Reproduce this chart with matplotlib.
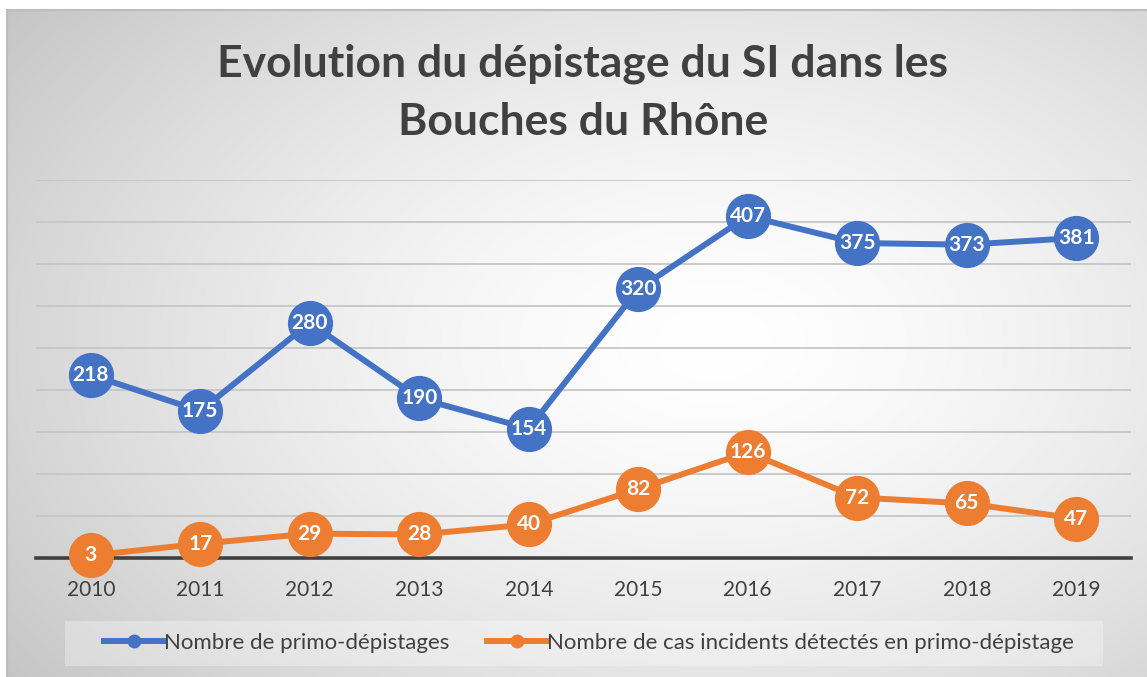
import numpy as np
import matplotlib.pyplot as plt
from matplotlib.patches import Rectangle

# data
years = ['2010', '2011', '2012', '2013', '2014', '2015', '2016', '2017', '2018', '2019']
primo = [218, 175, 280, 190, 154, 320, 407, 375, 373, 381]
incidents = [3, 17, 29, 28, 40, 82, 126, 72, 65, 47]
labels = ['Nombre de primo-dépistages', 'Nombre de cas incidents détectés en primo-dépistage']
title = 'Evolution du dépistage du SI dans les\nBouches du Rhône'

blue = '#4472C4'
orange = '#ED7D31'
txt = '#404040'

W, H = 1147, 677
fig = plt.figure(figsize=(W / 100, H / 100), dpi=100)

# chart area with radial gradient
bg = fig.add_axes([7 / W, 0, 1 - 7 / W, 1 - 10 / H])
bg.set_axis_off()
nx, ny = 400, 240
xx, yy = np.meshgrid(np.linspace(0, 1, nx), np.linspace(0, 1, ny))
r = np.sqrt(((xx - 0.62) / 1.0) ** 2 + ((yy - 0.5) / 1.1) ** 2)
r = np.clip(r / 0.8, 0, 1)
shade = 1.0 - 0.24 * r ** 1.5
bg.imshow(np.dstack([shade] * 3), aspect='auto', extent=[0, 1, 0, 1], origin='upper')
bg.set_xlim(0, 1)
bg.set_ylim(0, 1)
fig.add_artist(plt.Line2D([7.5 / W, 7.5 / W], [0, 1 - 9.5 / H], color='#bdbdbd', lw=1.5))
fig.add_artist(plt.Line2D([7 / W, 1], [1 - 9.5 / H, 1 - 9.5 / H], color='#bdbdbd', lw=1.5))

# legend background box
fig.add_artist(Rectangle((65 / W, 1 - 666 / H), (1103 - 65) / W, 45 / H,
                         transform=fig.transFigure, facecolor='white', alpha=0.3,
                         edgecolor='none'))

ax = fig.add_axes([36 / W, 1 - 558 / H, (1131 - 36) / W, (558 - 180) / H])
ax.patch.set_alpha(0)
x = np.arange(len(years))
ax.set_xlim(-0.5, len(years) - 0.5)
ax.set_ylim(0, 450)
ax.set_yticks(np.arange(50, 451, 50))
ax.yaxis.grid(True, color='#c6c6c6', lw=1.3)
ax.set_axisbelow(True)
for s in ['top', 'right', 'left']:
    ax.spines[s].set_visible(False)
ax.spines['bottom'].set_color(txt)
ax.spines['bottom'].set_linewidth(2.6)
ax.tick_params(axis='y', left=False, labelleft=False)
ax.tick_params(axis='x', length=0, pad=15.5, labelsize=15, labelcolor=txt)
ax.set_xticks(x)
ax.set_xticklabels(years, family='Lato')

for vals, col, lab in [(primo, blue, labels[0]), (incidents, orange, labels[1])]:
    ax.plot(x, vals, color=col, lw=4.3, marker='o', ms=31.5, mec=col, mfc=col,
            label=lab, clip_on=False, zorder=3)
    for xi, v in zip(x, vals):
        ax.text(xi, v, str(v), ha='center', va='center', color='white',
                fontsize=15, fontweight='bold', family='Lato', zorder=4)

# legend with small markers
hs = [plt.Line2D([], [], color=blue, lw=4.3, marker='o', ms=9),
      plt.Line2D([], [], color=orange, lw=4.3, marker='o', ms=9)]
fig.legend(hs, labels, loc='center', bbox_to_anchor=(589 / W, 1 - 643 / H),
           ncol=2, frameon=False, handlelength=2.7, handletextpad=0.0,
           columnspacing=1.7, prop={'family': 'Lato', 'size': 16}, labelcolor=txt)

fig.text(583 / W, 1 - 93 / H, title, ha='center', va='center', fontsize=32,
         fontweight='bold', family='Lato', color=txt, linespacing=1.55)

fig.savefig('out.png', dpi=100)
